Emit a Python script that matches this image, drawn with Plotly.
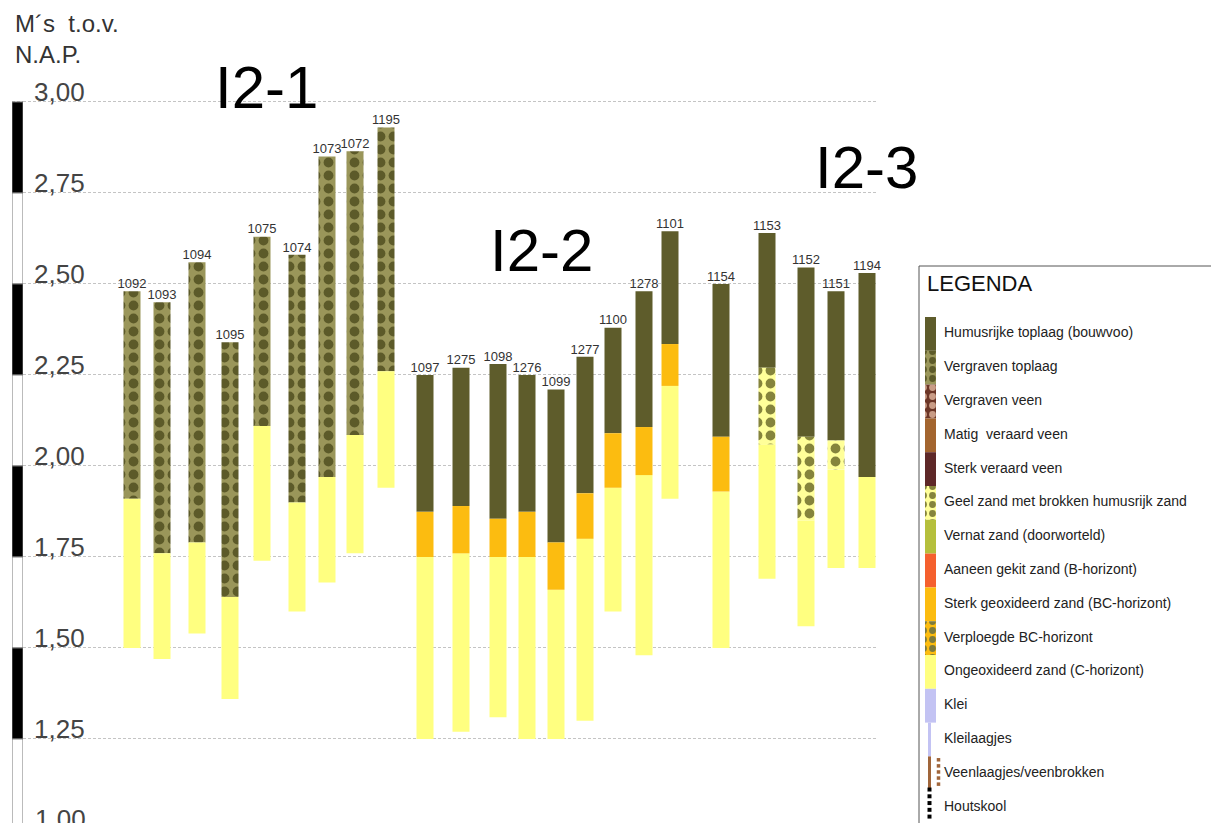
import plotly.graph_objects as go

# ---------------- data ----------------
borings = ["1092", "1093", "1094", "1095", "1075", "1074", "1073", "1072", "1195",
           "1097", "1275", "1098", "1276", "1099", "1277", "1100", "1278", "1101",
           "1154", "1153", "1152", "1151", "1194"]
# position of each boring along the profile (arbitrary profile units)
profile_pos = [109, 139, 174, 207, 239, 274, 304, 332, 363,
               402, 438, 475, 504, 533, 562, 590, 621, 647,
               698, 744, 783, 813, 844]
# surface elevation (m t.o.v. NAP)
surface = [2.48, 2.45, 2.56, 2.34, 2.63, 2.58, 2.85, 2.865, 2.93,
           2.25, 2.27, 2.28, 2.25, 2.21, 2.30, 2.38, 2.48, 2.645,
           2.50, 2.64, 2.545, 2.48, 2.53]

VT = "Vergraven toplaag"
HT = "Humusrijke toplaag (bouwvoo)"
BC = "Sterk geoxideerd zand (BC-horizont)"
GZ = "Geel zand met brokken humusrijk zand"
CH = "Ongeoxideerd zand (C-horizont)"

upper_layer = [VT] * 9 + [HT] * 9 + [HT] * 5
upper_base = [1.91, 1.76, 1.79, 1.64, 2.11, 1.90, 1.97, 2.085, 2.26,
              1.874, 1.89, 1.855, 1.874, 1.79, 1.925, 2.09, 2.107, 2.335,
              2.08, 2.27, 2.08, 2.07, 1.97]
mid_layer = [None] * 9 + [BC] * 9 + [BC, GZ, GZ, GZ, None]
mid_base = [None] * 9 + [1.75, 1.76, 1.75, 1.75, 1.66, 1.80, 1.94, 1.975, 2.22] + \
           [1.93, 2.06, 1.85, 1.99, None]
c_base = [1.50, 1.47, 1.54, 1.36, 1.74, 1.60, 1.68, 1.76, 1.94,
          1.25, 1.27, 1.31, 1.25, 1.25, 1.30, 1.60, 1.48, 1.91,
          1.50, 1.69, 1.56, 1.72, 1.72]

group_names = ["I2-1", "I2-2", "I2-3"]
group_label_pos = [243, 518, 843]
group_label_elev = [3.041, 2.593, 2.819]

tick_vals = [1.00, 1.25, 1.50, 1.75, 2.00, 2.25, 2.50, 2.75, 3.00]
ruler_edges = [3.00, 2.75, 2.50, 2.25, 2.00, 1.75, 1.50, 1.25, 1.00, 0.75]

legend_names = [
    "Humusrijke toplaag (bouwvoo)", "Vergraven toplaag", "Vergraven veen",
    "Matig  veraard veen", "Sterk veraard veen", "Geel zand met brokken humusrijk zand",
    "Vernat zand (doorworteld)", "Aaneen gekit zand (B-horizont)",
    "Sterk geoxideerd zand (BC-horizont)", "Verploegde BC-horizont",
    "Ongeoxideerd zand (C-horizont)", "Klei", "Kleilaagjes",
    "Veenlaagjes/veenbrokken", "Houtskool"]

# ---------------- styles ----------------
style = {
    "Humusrijke toplaag (bouwvoo)": ("#5e5c2b", None),
    "Vergraven toplaag": ("#9a965a", "#5c5a29"),
    "Vergraven veen": ("#6b3526", "#c99c86"),
    "Matig  veraard veen": ("#a3652f", None),
    "Sterk veraard veen": ("#5e2828", None),
    "Geel zand met brokken humusrijk zand": ("#ffff99", "#85843c"),
    "Vernat zand (doorworteld)": ("#b5bf3c", None),
    "Aaneen gekit zand (B-horizont)": ("#f5602e", None),
    "Sterk geoxideerd zand (BC-horizont)": ("#fcbc10", None),
    "Verploegde BC-horizont": ("#fcbc10", "#7d7b3c"),
    "Ongeoxideerd zand (C-horizont)": ("#ffff80", None),
    "Klei": ("#c3c3f3", None),
}


def marker_for(name, size=12):
    col, fg = style[name]
    m = dict(color=col, line=dict(width=0))
    if fg is not None:
        m["pattern"] = dict(shape=".", fgcolor=fg, bgcolor=col, size=size,
                            solidity=0.45, fillmode="replace")
    return m


fig = go.Figure()

# ---------------- ruler ----------------
r_x, r_base, r_h, r_col = [], [], [], []
for i in range(len(ruler_edges) - 1):
    r_x.append(0)
    r_base.append(ruler_edges[i + 1])
    r_h.append(ruler_edges[i] - ruler_edges[i + 1])
    r_col.append("#000000" if i % 2 == 0 else "#ffffff")
fig.add_trace(go.Bar(x=r_x, y=r_h, base=r_base, width=1, xaxis="x2", yaxis="y",
                     marker=dict(color=r_col, line=dict(color="#777777", width=1)),
                     hoverinfo="skip"))

# ---------------- borings ----------------
segments = {}
for i in range(len(borings)):
    top = surface[i]
    segments.setdefault(upper_layer[i], []).append((profile_pos[i], upper_base[i], top))
    top = upper_base[i]
    if mid_layer[i] is not None:
        segments.setdefault(mid_layer[i], []).append((profile_pos[i], mid_base[i], top))
        top = mid_base[i]
    segments.setdefault(CH, []).append((profile_pos[i], c_base[i], top))

for name, segs in segments.items():
    fig.add_trace(go.Bar(
        x=[s[0] for s in segs], base=[s[1] for s in segs],
        y=[s[2] - s[1] for s in segs], width=17, name=name,
        marker=marker_for(name, 13), xaxis="x", yaxis="y"))

fig.add_trace(go.Scatter(
    x=profile_pos, y=surface, mode="text", text=borings, textposition="top center",
    textfont=dict(family="Liberation Sans, Arial, sans-serif", size=13, color="#333333"),
    cliponaxis=False, xaxis="x", yaxis="y", hoverinfo="skip"))

for g, gx, gy in zip(group_names, group_label_pos, group_label_elev):
    fig.add_annotation(x=gx, y=gy, xref="x", yref="y", text=g, showarrow=False,
                       font=dict(family="Liberation Sans, Arial, sans-serif", size=60, color="#000000"))

# ---------------- legend panel ----------------
n_full = 12
for k in range(n_full):
    fig.add_trace(go.Bar(x=[11.5], y=[1], base=[k], width=11, marker=marker_for(legend_names[k], 9),
                         xaxis="x3", yaxis="y3", hoverinfo="skip"))
# Kleilaagjes: thin clay line
fig.add_trace(go.Bar(x=[10.5], y=[1], base=[12], width=3, marker=dict(color="#c3c3f3", line=dict(width=0)),
                     xaxis="x3", yaxis="y3", hoverinfo="skip"))
# Veenlaagjes: thin peat line + dots
fig.add_trace(go.Bar(x=[10.5], y=[0.95], base=[13.0], width=3, marker=dict(color="#a0653a", line=dict(width=0)),
                     xaxis="x3", yaxis="y3", hoverinfo="skip"))
fig.add_trace(go.Scatter(x=[19.5] * 5, y=[13.1 + 0.18 * j for j in range(5)], mode="markers",
                         marker=dict(symbol="square", size=3.5, color="#a0653a"),
                         xaxis="x3", yaxis="y3", hoverinfo="skip"))
# Houtskool: dotted black
fig.add_trace(go.Scatter(x=[10.5] * 8, y=[13.98 + 0.2 * j for j in range(8)], mode="markers",
                         marker=dict(symbol="square", size=4, color="#000000"),
                         xaxis="x3", yaxis="y3", hoverinfo="skip", cliponaxis=False))
fig.add_trace(go.Scatter(
    x=[25] * len(legend_names), y=[k + 0.5 for k in range(len(legend_names))], mode="text",
    text=legend_names, textposition="middle right",
    textfont=dict(family="Liberation Sans, Arial, sans-serif", size=14, color="#222222"),
    xaxis="x3", yaxis="y3", hoverinfo="skip", cliponaxis=False))
fig.add_annotation(x=0.02, y=-1.0, xref="x3 domain", yref="y3", text="LEGENDA", showarrow=False,
                   xanchor="left", yanchor="middle",
                   font=dict(family="Liberation Sans, Arial, sans-serif", size=22, color="#111111"))
fig.add_shape(type="rect", xref="x3 domain", yref="y3 domain", x0=0, x1=1.05, y0=-0.05, y1=1,
              line=dict(color="#555555", width=1), fillcolor="rgba(0,0,0,0)", layer="below")

# ---------------- axes / layout ----------------
W, H = 1211, 823
y_lo, y_hi = 1.0192, 3.2802
fig.add_annotation(x=13 / W, y=0.99, xref="paper", yref="paper", text="M´s  t.o.v.<br>N.A.P.",
                   showarrow=False, xanchor="left", yanchor="top", align="left",
                   font=dict(family="Liberation Sans, Arial, sans-serif", size=24, color="#333333"))
# tick label for the value just below the visible range
for tv in tick_vals:
    if tv < y_lo:
        fig.add_annotation(x=33 / W, y=(tv - y_lo) / (y_hi - y_lo), xref="paper", yref="paper",
                           text=f"{tv:.2f}".replace(".", ","), showarrow=False,
                           xanchor="left", yanchor="bottom", yshift=-6,
                           font=dict(family="Liberation Sans, Arial, sans-serif", size=26, color="#444444"))

fig.update_layout(
    width=W, height=H, margin=dict(l=0, r=0, t=0, b=0, autoexpand=False),
    paper_bgcolor="white", plot_bgcolor="white", showlegend=False,
    barmode="overlay", separators=",.",
    xaxis=dict(domain=[23 / W, 878 / W], range=[0, 855], visible=False, fixedrange=True, automargin=False),
    xaxis2=dict(domain=[12 / W, 23 / W], range=[-0.5, 0.5], visible=False, anchor="y", automargin=False),
    yaxis=dict(domain=[0, 1], range=[y_lo, y_hi], tickvals=tick_vals, tickformat=".2f",
               ticklabelposition="inside top", ticklabelstandoff=8, ticklabelshift=8, ticks="",
               showgrid=True, gridcolor="#c4c4c4", griddash="3px,2px", gridwidth=1,
               zeroline=False, showline=False, automargin=False,
               tickfont=dict(family="Liberation Sans, Arial, sans-serif", size=26, color="#444444")),
    xaxis3=dict(domain=[919 / W, 1.0], range=[0, 292], visible=False, anchor="y3", automargin=False),
    yaxis3=dict(domain=[0, 1 - 266 / H], range=[14.97, -1.509], visible=False, anchor="x3", automargin=False),
)

fig.write_html("out.html", config={"displayModeBar": False},
               post_script="document.body.style.margin='0';document.body.style.overflow='hidden';")
